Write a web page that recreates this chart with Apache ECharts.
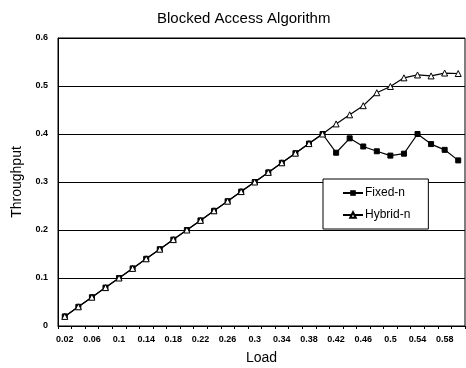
<!DOCTYPE html>
<html><head><meta charset="utf-8">
<script src="https://cdn.jsdelivr.net/npm/echarts@6/dist/echarts.min.js"></script>
<style>html,body{margin:0;padding:0;background:#fff}#c{width:466px;height:368px}</style>
</head><body><div id="c"></div>
<script>
const loads = ['0.02','0.04','0.06','0.08','0.1','0.12','0.14','0.16','0.18','0.2','0.22','0.24','0.26','0.28','0.3','0.32','0.34','0.36','0.38','0.4','0.42','0.44','0.46','0.48','0.5','0.52','0.54','0.56','0.58','0.6'];
const fixedN = [0.02,0.04,0.06,0.08,0.1,0.12,0.14,0.16,0.18,0.2,0.22,0.24,0.26,0.28,0.3,0.32,0.34,0.36,0.38,0.4,0.361,0.391,0.374,0.364,0.355,0.359,0.4,0.379,0.367,0.345];
const hybridN = [0.02,0.04,0.06,0.08,0.1,0.12,0.14,0.16,0.18,0.2,0.22,0.24,0.26,0.28,0.3,0.32,0.34,0.36,0.38,0.4,0.421,0.44,0.459,0.486,0.499,0.517,0.523,0.521,0.527,0.526];
const FONT = 'Liberation Sans';
const chart = echarts.init(document.getElementById('c'), null, {renderer:'canvas'});
chart.setOption({
  animation:false,
  backgroundColor:'#fff',
  title:{text:'Blocked Access Algorithm',left:152,top:6,
    textStyle:{fontFamily:FONT,fontSize:15,fontWeight:'normal',color:'#000'}},
  grid:{left:58,right:1,top:38,bottom:42,show:true,borderColor:'#000',borderWidth:1,
    containLabel:false,outerBoundsMode:'none'},
  legend:{left:323,top:179,orient:'vertical',itemGap:10,padding:[8,18,8,19],
    backgroundColor:'#fff',borderColor:'#000',borderWidth:1,borderRadius:0,
    itemWidth:20,itemHeight:7,
    textStyle:{fontFamily:FONT,fontSize:12,color:'#000',padding:[0,0,0,-3]},
    data:['Fixed-n','Hybrid-n']},
  xAxis:{type:'category',data:loads,boundaryGap:true,
    name:'Load',nameLocation:'middle',nameGap:25,
    nameTextStyle:{fontFamily:FONT,fontSize:14,color:'#000'},
    axisLine:{lineStyle:{color:'#000'}},
    axisTick:{show:true,interval:0,length:3,lineStyle:{color:'#000'}},
    axisLabel:{interval:1,fontFamily:FONT,fontSize:9,fontWeight:'bold',color:'#000',margin:9},
    splitLine:{show:false}},
  yAxis:{type:'value',min:0,max:0.6,interval:0.1,
    name:'Throughput',nameLocation:'middle',nameGap:32,
    nameTextStyle:{fontFamily:FONT,fontSize:14,color:'#000'},
    axisLine:{show:true,lineStyle:{color:'#000'}},
    axisTick:{show:false},
    axisLabel:{fontFamily:FONT,fontSize:9,fontWeight:'bold',color:'#000',margin:10,
      formatter:v=>v===0?'0':String(+v.toFixed(1))},
    splitLine:{show:true,lineStyle:{color:'#000',width:1}}},
  series:[
    {name:'Fixed-n',type:'line',data:fixedN,symbol:'rect',symbolSize:5,
      lineStyle:{color:'#000',width:1.2},itemStyle:{color:'#000',borderColor:'#000'},z:2},
    {name:'Hybrid-n',type:'line',data:hybridN,symbol:'triangle',symbolSize:6,
      lineStyle:{color:'#000',width:1.2},itemStyle:{color:'#fff',borderColor:'#000',borderWidth:1},z:3}
  ]
});
</script></body></html>
